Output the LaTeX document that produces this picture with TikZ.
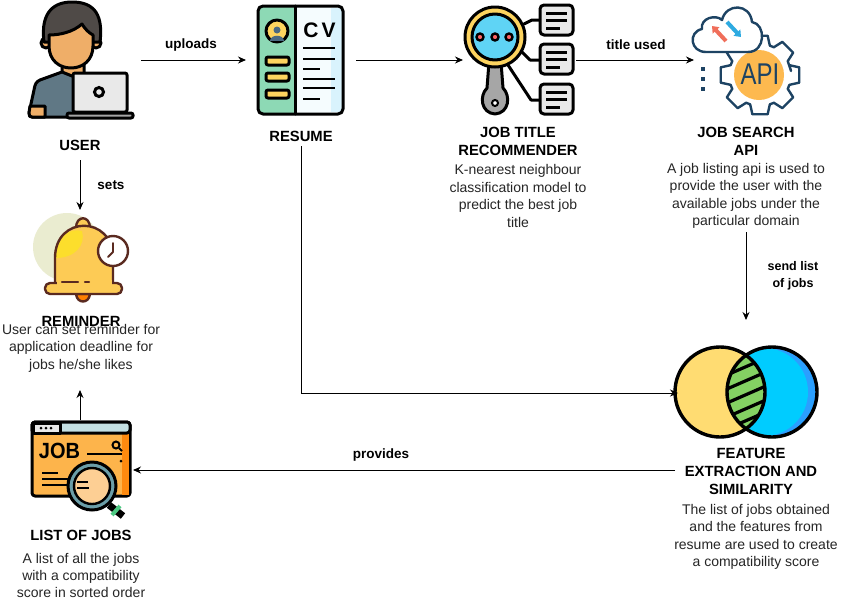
\documentclass[tikz,border=0pt]{standalone}
\usepackage{fontspec}
\usepackage{graphicx}
\setmainfont{Liberation Sans}
\usetikzlibrary{arrows.meta,calc}
\definecolor{hair}{HTML}{4F4A47}
\definecolor{skin}{HTML}{EFAE68}
\definecolor{shirt}{HTML}{607885}
\definecolor{lap}{HTML}{E9E9E9}
\definecolor{cvgreen}{HTML}{8DD9B5}
\definecolor{yel}{HTML}{FDD45F}
\definecolor{lensblue}{HTML}{5FD4F5}
\definecolor{navy}{HTML}{1D4363}
\definecolor{apior}{HTML}{FDB94F}
\definecolor{bellb}{HTML}{5A2A20}
\definecolor{bellf}{HTML}{FDCB55}
\definecolor{bellbg}{HTML}{EAECD0}
\definecolor{joborange}{HTML}{FDB44B}
\definecolor{jobtab}{HTML}{C4E0E3}
\definecolor{jobglass}{HTML}{FDCF94}
\definecolor{jobring}{HTML}{6B9EA8}
\definecolor{vyellow}{HTML}{FFDC72}
\definecolor{vblue}{HTML}{2B9FFF}
\definecolor{vcyan}{HTML}{00CCFF}
\definecolor{vgreen}{HTML}{84D163}
\definecolor{arrred}{HTML}{F06E5A}
\definecolor{arrblue}{HTML}{2DAAE1}
\tikzset{
  x=1pt,y=-1pt,
  lbl/.style={font=\fontsize{14.8}{18}\selectfont\bfseries,align=center,inner sep=0pt,text=black},
  elbl/.style={font=\fontsize{13.5}{17}\selectfont\bfseries,align=center,inner sep=0pt,text=black},
  desc/.style={font=\fontsize{14}{17.4}\selectfont,align=center,inner sep=0pt,text=black!85},
  conn/.style={draw=black,line width=1pt,-{Stealth[length=8pt,width=7pt]}},
  anchorbox/.style={minimum width=#1,inner sep=0pt,outer sep=0pt},
  ol/.style={draw=black,line width=3pt,line join=round,line cap=round},
  bl/.style={draw=bellb,line width=2.4pt,line join=round},
}
\begin{document}
\begin{tikzpicture}
\useasboundingbox (0,0) rectangle (842,600);
\fill[white] (0,0) rectangle (842,600);

% USER icon
\path[ol,fill=skin] (62,62) -- (62,78) -- (72,84) -- (84,78) -- (84,62) -- cycle;
\path[ol,fill=shirt] (62,72) -- (40,80) .. controls (36,82) and (35,84) .. (34,90) -- (29,113) .. controls (29,116) and (30,117) .. (32,117) -- (80,117) -- (80,76) -- (72,76) -- cycle;
\path[ol,fill=skin] (30,106) -- (45,106) -- (45,117) -- (32,117) .. controls (30,117) and (29,116) .. (29,113) -- cycle;
\path[ol,fill=skin] (46,43) circle (5);
\path[ol,fill=skin] (96,43) circle (5);
\path[ol,fill=hair] (44,42) .. controls (40,10) and (56,2) .. (72,2) .. controls (90,2) and (104,10) .. (100,42) -- (50,42) -- cycle;
\path[ol,fill=skin] (49,35) .. controls (60,35) and (73,32) .. (82,24) .. controls (85,29) and (89,33) .. (93,35) -- (93,46) .. controls (93,60) and (83,68) .. (71,68) .. controls (59,68) and (49,60) .. (49,46) -- cycle;
\path[ol,fill=lap,rounded corners=2pt] (73,112) -- (73,73) -- (127,73) -- (127,112) -- cycle;
\path[ol,fill=black!35,rounded corners=2pt] (67,113) rectangle (133,118);
\path[draw=black,line width=3pt,fill=lap] (99,92) circle (4.5);
\node[anchorbox=122pt,minimum height=120pt] (usericon) at (80,60) {};

% RESUME icon
\path[fill=cvgreen,rounded corners=5pt] (258,6) rectangle (300,114);
\fill[cyan!4] (295,7) rectangle (342,113);
\fill[cyan!15] (331,8) rectangle (342,112);
\path[ol,rounded corners=5pt] (258,6) rectangle (343,114);
\draw[ol] (295,6) -- (295,114);
\path[ol,fill=yel] (277,31) circle (11);
\fill[navy!80] (277,30) circle (3.5);
\fill[navy!80] (270,41) .. controls (270,34) and (284,34) .. (284,41) -- cycle;
\foreach \yy in {57,73,90} \path[ol,fill=yel,rounded corners=2pt] (266,\yy) rectangle (289,\yy+8);
\foreach \yy/\xx in {48/335,59/335,69/320,79/335,88/335,99/320} \draw[draw=black,line width=2pt] (303,\yy) -- (\xx,\yy);
\node[font=\fontsize{21}{21}\selectfont\bfseries,inner sep=0pt] (cvtext) at (319.5,30) {C\kern3pt V};
\node[anchorbox=110pt,minimum height=120pt] (resumeicon) at (301,60) {};

% JOB TITLE icon
\draw[ol] (524,24) -- (532,20) -- (540,20);
\draw[ol] (522,52) -- (530,60) -- (540,60);
\draw[ol] (508,65) -- (531,100) -- (540,100);
\foreach \yy in {5,44,84} {
  \path[ol,fill=lap,rounded corners=4pt] (540,\yy) rectangle (573,\yy+30);
  \draw[black,line width=3pt] (546,\yy+8) -- (567,\yy+8);
  \draw[black,line width=3pt] (546,\yy+15) -- (567,\yy+15);
  \draw[black,line width=3pt] (546,\yy+23) -- (560,\yy+23);
}
\path[ol,fill=black!35] (489,62) -- (501,62) -- (503,88) .. controls (511,96) and (509,113) .. (495,114) .. controls (481,113) and (479,96) .. (487,88) -- cycle;
\path[draw=black,line width=2pt,fill=white] (495,103) circle (3);
\path[ol,fill=yel] (495,37) circle (30);
\path[ol,fill=lensblue] (495,37) circle (23);
\foreach \xx in {480,495,509} \path[draw=black,line width=2.4pt,fill=red!60] (\xx,37) circle (3.5);
\node[anchorbox=113pt,minimum height=120pt] (titleicon) at (519.5,60) {};

% API icon
\path[draw=navy,line width=2.4pt,fill=white,line join=round] (791,71)
  \foreach \a in {0,45,...,315} {
    -- ({760+31*cos(\a-18.5)},{75+31*sin(\a-18.5)}) -- ({760+40*cos(\a-11)},{75+40*sin(\a-11)}) -- ({760+40*cos(\a+11)},{75+40*sin(\a+11)}) -- ({760+31*cos(\a+18.5)},{75+31*sin(\a+18.5)})
  } -- cycle;
\fill[apior] (759,75) circle (25);
\node[font=\fontsize{24}{24}\selectfont,text=navy,inner sep=0pt] (apitext) at (760,74) {\scalebox{1}[1.25]{API}};
\foreach \yy in {69,79,89} \fill[navy] (701,\yy-2) rectangle (705,\yy+2);
\path[draw=navy,line width=2.4pt,fill=white,line join=round] (706,52) .. controls (690,52) and (688,32) .. (702,29) .. controls (700,18) and (716,14) .. (722,20) .. controls (726,3) and (750,3) .. (752,22) .. controls (766,24) and (766,52) .. (748,52) -- cycle;
\draw[draw=arrred,line width=4pt,-{Triangle[length=6pt,width=9pt]}] (726,41) -- (712,26);
\draw[draw=arrblue,line width=4pt,-{Triangle[length=6pt,width=9pt]}] (727,22) -- (741,37);
\node[anchorbox=106pt,minimum height=120pt] (apiicon) at (747,60) {};

% REMINDER icon
\fill[bellbg] (67,247) circle (34);
\path[bl,fill=bellf] (76,228) .. controls (76,215) and (90,215) .. (90,228);
\path[bl,fill=orange] (76,294) .. controls (77,304) and (89,304) .. (90,294) -- cycle;
\path[fill=bellf] (55,284) -- (55,258) .. controls (55,215) and (113,215) .. (113,258) -- (113,284) -- cycle;
\fill[yellow!50!bellf] (56,255) .. controls (58,235) and (70,228) .. (82,231) .. controls (86,245) and (75,258) .. (56,258) -- cycle;
\path[bl] (55,284) -- (55,258) .. controls (55,215) and (113,215) .. (113,258) -- (113,284);
\path[bl,fill=bellf,rounded corners=5pt] (45,283) rectangle (122,294);
\fill[bellf] (56.5,280) rectangle (111.5,285);
\draw[bellb,line width=2.4pt,line cap=round] (62,282) -- (78,282) (85,282) -- (89,282);
\path[bl,fill=white] (113,251) circle (15);
\draw[bellb,line width=1.8pt,line cap=round,line join=round] (113,243) -- (113,252) -- (108,257);
\node[anchorbox=80pt,minimum height=90pt] (bellicon) at (80,255) {};

% LIST OF JOBS icon
\path[ol,fill=joborange,rounded corners=3pt] (32,422) rectangle (130,496);
\fill[orange!80!joborange] (122,434) rectangle (128.5,494.5);
\path[ol,fill=jobtab,rounded corners=3pt] (32,422) rectangle (130,433);
\path[ol,fill=lap] (33,423) rectangle (60,433);
\foreach \xx in {41,46,51} \fill[black] (\xx,428) circle (1.5);
\node[font=\fontsize{20}{20}\selectfont\bfseries,inner sep=0pt] (jobtext) at (59.5,451) {\scalebox{1}[1.1]{JOB}};
\draw[black,line width=2pt] (87,454) -- (122,454);
\path[draw=black,line width=2pt] (116,445) circle (3.5);
\draw[black,line width=2pt] (119,448) -- (122,451);
\fill[black] (121,461) circle (1.5);
\foreach \yy/\xx in {473/58,479/75,485/75} \draw[black,line width=2pt] (42,\yy) -- (\xx,\yy);
\draw[black,line width=7pt] (109,505) -- (123,516);
\draw[draw=teal!60!green!70,line width=4pt] (112,515) -- (120,506);
\path[draw=black,line width=3pt,fill=jobring] (92,486) circle (24);
\path[draw=black,line width=2.4pt,fill=jobglass] (92,486) circle (18);
\draw[black,line width=2pt] (77,482) -- (88,482) (77,488) -- (89,488);
\node[anchorbox=106pt,minimum height=100pt] (listicon) at (80,470) {};

% VENN icon
\fill[vyellow] (720,392) circle (45);
\fill[vblue] (772,392) circle (45);
\begin{scope}
\clip (772,392) circle (45);
\fill[vcyan] (764,392) circle (44);
\end{scope}
\begin{scope}
\clip (720,392) circle (45);
\clip (772,392) circle (45);
\fill[vgreen] (720,340) rectangle (775,440);
\foreach \yy in {372,386,400,414,426} \draw[black,line width=3.2pt] (720,\yy+6) -- (775,\yy-18);
\end{scope}
\draw[ol,line width=3.4pt] (720,392) circle (45);
\draw[ol,line width=3.4pt] (772,392) circle (45);
\node[anchorbox=136pt,minimum height=90pt] (vennicon) at (746,393) {};

% Labels
\node[lbl] (userlbl) at (80,145) {USER};
\node[lbl] (resumelbl) at (301,136) {RESUME};
\node[lbl] (titlelbl) at (518,141) {JOB TITLE\\RECOMMENDER};
\node[lbl] (apilbl) at (746,141) {JOB SEARCH\\API};
\node[lbl] (reminderlbl) at (81,321) {REMINDER};
\node[lbl] (listlbl) at (81,535) {LIST OF JOBS};
\node[lbl] (vennlbl) at (751,471) {FEATURE\\EXTRACTION AND\\SIMILARITY};

\node[desc] (titledesc) at (518,196) {K-nearest neighbour\\classification model to\\predict the best job\\title};
\node[desc] (apidesc) at (746,196) {A job listing api is used to\\provide the user with the\\available jobs under the\\particular domain};
\node[desc] (reminderdesc) at (81,348) {User can set reminder for\\application deadline for\\jobs he/she likes};
\node[desc] (listdesc) at (81,575.5) {A list of all the jobs\\with a compatibility\\score in sorted order};
\node[desc] (venndesc) at (756,537) {The list of jobs obtained\\and the features from\\resume are used to create\\a compatibility score};

% Connector free ends
\coordinate (userout) at (80,160);
\coordinate (apiout) at (746,232);
\coordinate (venntop) at (746,320);
\coordinate (resumeout) at (301,146);
\coordinate (vennout) at (675,470);
\coordinate (remtip) at (80,390);

% Connectors
\path[conn] (usericon.east) -- (resumeicon.west);
\path[conn] (resumeicon.east) -- (titleicon.west);
\path[conn] (titleicon.east) -- (apiicon.west);
\path[conn] (userout) -- (bellicon.north);
\path[conn] (apiout) -- (venntop);
\path[conn] (resumeout) |- (vennicon.west);
\path[conn] (vennout) -- (listicon.east);
\path[conn] (listicon.north) -- (remtip);

\node[elbl] (uploadslbl) at (191,45) {uploads};
\node[elbl] (titleused) at (636,45) {title used};
\node[elbl] (setslbl) at (111,185) {sets};
\node[elbl,font=\fontsize{12.5}{17}\selectfont\bfseries] (sendlbl) at (793,276) {send list\\of jobs};
\node[elbl] (provlbl) at (381,455) {provides};
\end{tikzpicture}
\end{document}
